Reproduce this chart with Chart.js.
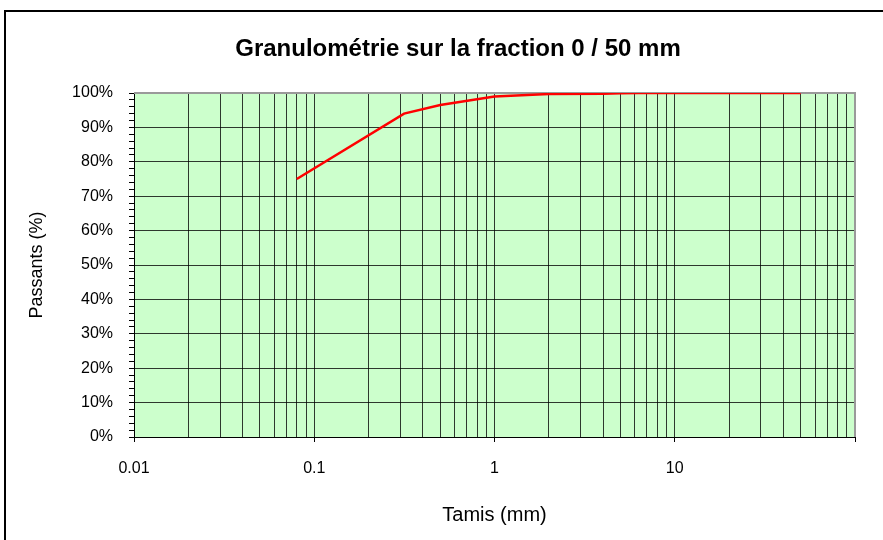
<!DOCTYPE html>
<html>
<head>
<meta charset="utf-8">
<script src="https://cdn.jsdelivr.net/npm/chart.js@4/dist/chart.umd.min.js"></script>
<style>
  html, body { margin: 0; padding: 0; background: #ffffff; }
  #wrap { width: 883px; height: 540px; position: relative; }
</style>
</head>
<body>
<div id="wrap"><canvas id="grading" width="883" height="540"></canvas></div>
<script>
// Sieve openings (mm) and cumulative passing (%)
const sieveSizes = [0.08, 0.315, 0.5, 1, 2, 4, 5, 6.3, 10, 20, 31.5, 50];
const passingPct = [75, 94, 96.5, 99, 99.7, 99.8, 99.9, 100, 100, 100, 100, 100];

// Axis labels
const xTickLabels = ['0.01', '0.1', '1', '10'];
const yTickValues = [0, 10, 20, 30, 40, 50, 60, 70, 80, 90, 100];

const chartTitle = 'Granulométrie sur la fraction 0 / 50 mm';
const xAxisTitle = 'Tamis (mm)';
const yAxisTitle = 'Passants (%)';

const FONT = "'Liberation Sans', Arial, Helvetica, sans-serif";
const GRID = 'rgba(0,0,0,0.78)';

const isDecade = v => Math.abs(Math.log10(v) - Math.round(Math.log10(v))) < 1e-9;

// Backdrop, plot fill, plot frame and outer frame + title
const decor = {
  id: 'decor',
  beforeDraw(chart) {
    const { ctx, chartArea: a } = chart;
    ctx.save();
    ctx.fillStyle = '#ffffff';
    ctx.fillRect(0, 0, chart.width, chart.height);
    ctx.fillStyle = '#CCFFCC';
    ctx.fillRect(a.left, a.top, a.right - a.left, a.bottom - a.top);
    ctx.restore();
  },
  beforeDatasetsDraw(chart) {
    const { ctx, chartArea: a } = chart;
    ctx.save();
    ctx.strokeStyle = '#9a9a9a';
    ctx.lineWidth = 2;
    ctx.beginPath();
    ctx.moveTo(a.left, a.top);
    ctx.lineTo(a.right, a.top);
    ctx.lineTo(a.right, a.bottom);
    ctx.stroke();
    ctx.restore();
  },
  afterDraw(chart) {
    const { ctx } = chart;
    ctx.save();
    ctx.strokeStyle = '#000000';
    ctx.lineWidth = 2;
    ctx.strokeRect(5, 11, 1000, 1000);
    ctx.fillStyle = '#000000';
    ctx.font = "bold 24px " + FONT;
    ctx.textAlign = 'center';
    ctx.textBaseline = 'middle';
    ctx.fillText(chartTitle, 458, 49);
    ctx.restore();
  }
};

new Chart(document.getElementById('grading'), {
  type: 'line',
  data: {
    datasets: [{
      data: sieveSizes.map((s, i) => ({ x: s, y: passingPct[i] })),
      borderColor: '#ff0000',
      borderWidth: 2.5,
      pointRadius: 0,
      tension: 0,
      fill: false
    }]
  },
  options: {
    responsive: false,
    devicePixelRatio: 1,
    animation: false,
    layout: { padding: { left: 0, right: 28, top: 93, bottom: 0 } },
    plugins: { legend: { display: false }, tooltip: { enabled: false }, title: { display: false } },
    scales: {
      x: {
        type: 'logarithmic',
        position: 'bottom',
        min: 0.01,
        max: 100,
        afterBuildTicks(scale) {
          const t = [];
          for (let e = -2; e < 2; e++) {
            for (let m = 1; m < 10; m++) t.push({ value: +(m * Math.pow(10, e)).toPrecision(6) });
          }
          t.push({ value: 100 });
          scale.ticks = t;
        },
        afterFit(scale) { scale.height = 103; },
        ticks: {
          autoSkip: false,
          maxRotation: 0,
          minRotation: 0,
          padding: 17,
          color: '#000000',
          font: { family: FONT, size: 16 },
          callback(value) {
            const lab = xTickLabels.find(l => Math.abs(parseFloat(l) - value) < 1e-9);
            return lab === undefined ? '' : lab;
          }
        },
        grid: {
          color: GRID,
          lineWidth: 1,
          tickLength: 5,
          tickColor: ctx => (ctx.tick && isDecade(ctx.tick.value) ? '#000000' : 'rgba(0,0,0,0)')
        },
        border: { display: true, color: '#000000', width: 1 },
        title: {
          display: true,
          text: xAxisTitle,
          color: '#000000',
          font: { family: FONT, size: 20 },
          padding: { top: 0, bottom: 13 }
        }
      },
      y: {
        type: 'linear',
        min: 0,
        max: 100,
        afterBuildTicks(scale) {
          const t = [];
          for (let v = 0; v <= 100; v += 2) t.push({ value: v });
          scale.ticks = t;
        },
        afterFit(scale) { scale.width = 134; },
        ticks: {
          autoSkip: false,
          padding: 16,
          color: '#000000',
          font: { family: FONT, size: 16 },
          callback(value) { return yTickValues.includes(value) ? value + '%' : ''; }
        },
        grid: {
          color: ctx => (ctx.tick && yTickValues.includes(ctx.tick.value) ? GRID : 'rgba(0,0,0,0)'),
          lineWidth: 1,
          tickLength: 5,
          tickColor: '#000000'
        },
        border: { display: true, color: '#000000', width: 1 },
        title: {
          display: true,
          text: yAxisTitle,
          color: '#000000',
          font: { family: FONT, size: 18 },
          padding: { top: 26, bottom: 0 }
        }
      }
    }
  },
  plugins: [decor]
});
</script>
</body>
</html>
